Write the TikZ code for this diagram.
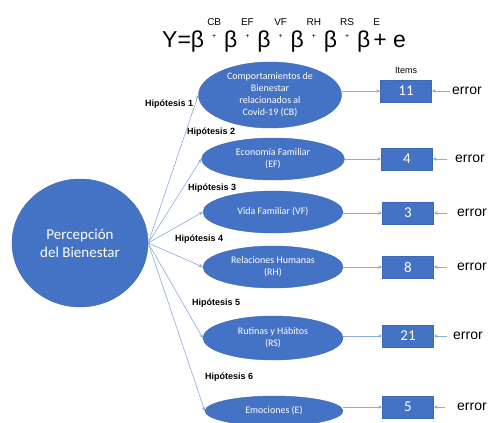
\documentclass[tikz,border=0pt]{standalone}
\usepackage{fontspec}
\setmainfont{Liberation Sans}
\newfontfamily\carlito{Carlito}
\usetikzlibrary{positioning,shapes.geometric,arrows.meta}
\definecolor{factorblue}{HTML}{4472C4}
\definecolor{factoredge}{HTML}{3D68B5}
\definecolor{pathline}{HTML}{8FAADC}
\tikzset{
  factor/.style={ellipse, fill=factorblue, draw=factoredge, text=white, inner sep=0pt,
    align=center, font=\carlito\fontsize{10}{12}\selectfont},
  itembox/.style={rectangle, fill=factorblue, draw=factoredge, text=white, inner sep=0pt,
    minimum width=51pt, minimum height=22pt, font=\carlito\fontsize{15}{15}\selectfont},
  link/.style={draw=pathline, line width=0.6pt, -{Stealth[length=4pt,width=3.5pt]}},
  hyp/.style={anchor=west, inner sep=0pt, font=\bfseries\fontsize{9}{9}\selectfont},
  errtxt/.style={anchor=west, inner sep=0pt, font=\fontsize{14}{14}\selectfont}
}
\newcommand{\eqsup}[1]{\makebox[20pt]{\makebox[0pt]{\raisebox{9pt}{\fontsize{7}{7}\selectfont+}}\makebox[0pt]{\raisebox{22pt}{\fontsize{10}{10}\selectfont #1}}}}
\begin{document}
\begin{tikzpicture}[x=1pt, y=-1pt]
  \useasboundingbox (0,0) rectangle (490,423);

  % model equation
  \node [anchor=base west, inner sep=0pt, font=\fontsize{23}{23}\selectfont] (model) at (162,47)
    {Y=β\eqsup{CB}β\eqsup{EF}β\eqsup{VF}β\eqsup{RH}β\eqsup{RS}β\kern3pt\makebox[0pt][l]{\raisebox{22pt}{\fontsize{10}{10}\selectfont E}}+ e};

  \node [factor, minimum width=136pt, minimum height=128pt, font=\carlito\fontsize{15}{18}\selectfont]
    (percep) at (80,243) {Percepción\\del Bienestar};

  \node [factor, minimum width=143pt, minimum height=66pt] (e1) at (270,95)
    {Comportamientos de\\Bienestar\\relacionados al\\Covid-19 (CB)};
  \node [factor, minimum width=143pt, minimum height=42pt] (e2) at (273,159) {Economía Familiar\\(EF)};
  \node [factor, minimum width=140pt, minimum height=42pt] (e3) at (273,212) {Vida Familiar (VF)};
  \node [factor, minimum width=140pt, minimum height=42pt] (e4) at (273,267) {Relaciones Humanas\\(RH)};
  \node [factor, minimum width=140pt, minimum height=44pt] (e5) at (273,338) {Rutinas y Hábitos\\(RS)};
  \node [factor, minimum width=138pt, minimum height=30pt] (e6) at (274,411) {Emociones (E)};

  \node [itembox] (b1) at (406,91) {11};
  \node [itembox] (b2) at (407,159) {4};
  \node [itembox] (b3) at (408,213) {3};
  \node [itembox] (b4) at (408,267) {8};
  \node [itembox] (b5) at (408,336) {21};
  \node [itembox] (b6) at (408,407) {5};
  \node [above=6pt of b1, inner sep=0pt, font=\fontsize{9}{9}\selectfont] (items) {Items};

  \node [errtxt] (r1) at (452,91) {error};
  \node [errtxt] (r2) at (455,159) {error};
  \node [errtxt] (r3) at (457,213) {error};
  \node [errtxt] (r4) at (457,267) {error};
  \node [errtxt] (r5) at (453,336) {error};
  \node [errtxt] (r6) at (457,407) {error};

  \node [hyp] (h1) at (145,104) {Hipótesis 1};
  \node [hyp] (h2) at (187,132) {Hipótesis 2};
  \node [hyp] (h3) at (188,188) {Hipótesis 3};
  \node [hyp] (h4) at (175,239) {Hipótesis 4};
  \node [hyp] (h5) at (192,303) {Hipótesis 5};
  \node [hyp] (h6) at (205,377) {Hipótesis 6};

  \foreach \i/\gap in {1/2pt,2/8pt,3/10pt,4/10pt,5/6pt,6/12pt} {
    \draw [link] (percep.east) -- (e\i.west);
    \draw [link] (e\i.east |- b\i.west) -- (b\i.west);
    \draw [link, shorten <=\gap] (r\i.west) -- (b\i.east);
  }
\end{tikzpicture}
\end{document}
